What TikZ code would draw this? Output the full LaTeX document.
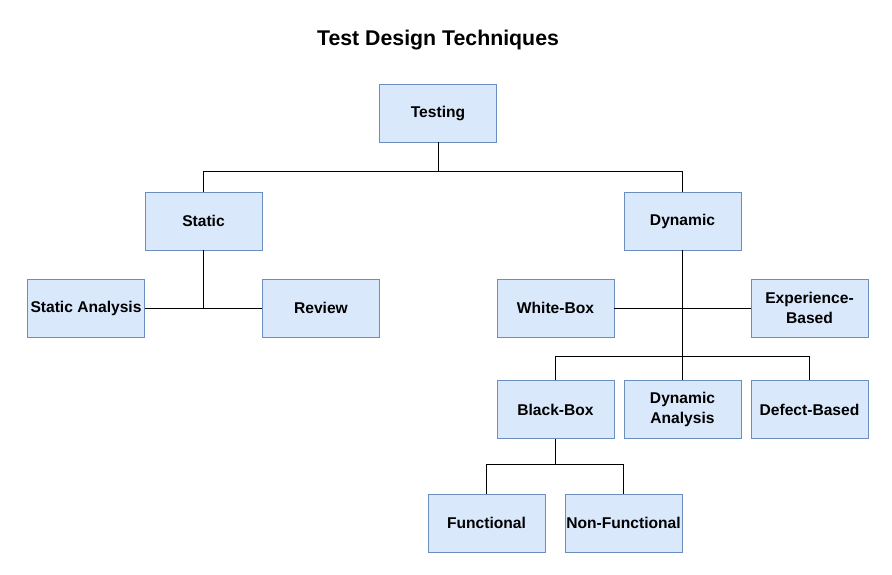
\documentclass[tikz,border=0pt]{standalone}
\usepackage{fontspec}
\setmainfont{Liberation Sans}
\definecolor{boxfill}{HTML}{DAE8FC}
\definecolor{boxline}{HTML}{6C8EBF}
\begin{document}
\begin{tikzpicture}[x=1pt,y=-1pt,
  tbox/.style={draw=boxline,fill=boxfill,line width=0.9pt,minimum width=117pt,minimum height=58pt,inner sep=1pt,align=center,font=\fontsize{15.6}{20}\selectfont\bfseries},
  conn/.style={draw=black,line width=0.9pt}]
\useasboundingbox (0,0) rectangle (892,574);
\node[font=\fontsize{21.3}{24}\selectfont\bfseries] (title) at (438,40) {Test Design Techniques};
\node[tbox] (testing) at (438,113) {Testing};
\node[tbox] (static) at (203.5,221) {Static};
\node[tbox] (dynamic) at (682.5,221) {Dynamic};
\node[tbox] (sa) at (86,308) {Static Analysis};
\node[tbox] (review) at (321,308) {Review};
\node[tbox] (wb) at (555.5,308) {White-Box};
\node[tbox] (eb) at (809.5,308) {Experience-\\Based};
\node[tbox] (bb) at (555.5,409.5) {Black-Box};
\node[tbox] (da) at (682.5,409.5) {Dynamic\\Analysis};
\node[tbox] (db) at (809.5,409.5) {Defect-Based};
\node[tbox] (fn) at (486.5,523) {Functional};
\node[tbox] (nf) at (623.5,523) {Non-Functional};
\coordinate (j1) at (438,171);
\coordinate (j2) at (555.5,356);
\coordinate (j3) at (555.5,464);
\draw[conn] (testing.south) -- (j1);
\draw[conn] (j1) -| (static.north);
\draw[conn] (j1) -| (dynamic.north);
\draw[conn] (static.south) -- (static.south |- sa.east);
\draw[conn] (sa.east) -- (review.west);
\draw[conn] (dynamic.south) -- (da.north);
\draw[conn] (wb.east) -- (eb.west);
\draw[conn] (bb.north) -- (j2) -| (db.north);
\draw[conn] (bb.south) -- (j3);
\draw[conn] (j3) -| (fn.north);
\draw[conn] (j3) -| (nf.north);
\end{tikzpicture}
\end{document}
